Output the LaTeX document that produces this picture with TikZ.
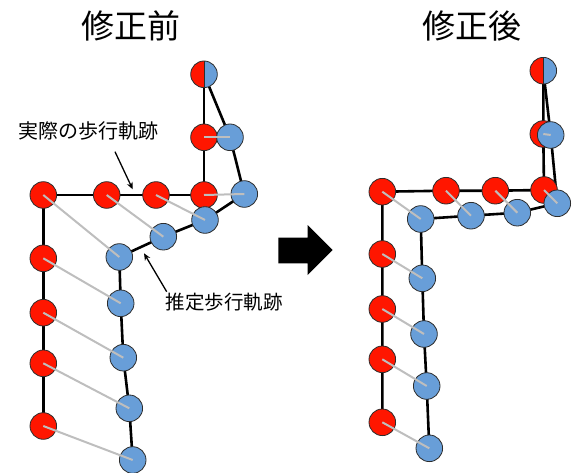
\documentclass[tikz,border=0pt]{standalone}
\usepackage{fontspec}
\setmainfont{Noto Sans CJK JP}
\usetikzlibrary{arrows.meta}
\pgfdeclarelayer{bg}
\pgfdeclarelayer{fg}
\pgfsetlayers{bg,main,fg}
\definecolor{stepred}{RGB}{255,22,0}
\definecolor{stepblue}{RGB}{104,158,216}
\definecolor{linkgray}{RGB}{190,190,190}
\definecolor{rim}{RGB}{45,45,45}
\tikzset{
  x=1pt, y=-1pt,
  dot/.style={circle, minimum size=26.6pt, inner sep=0pt, draw=rim, line width=0.8pt},
  rdot/.style={dot, fill=stepred},
  bdot/.style={dot, fill=stepblue},
  hdot/.style={dot, fill=stepblue, path picture={\fill[stepred] (path picture bounding box.south west) rectangle (path picture bounding box.north); \draw[rim, line width=0.8pt] (path picture bounding box.south) -- (path picture bounding box.north);}},
  trail/.style={line width=2.6pt, black},
  link/.style={line width=2pt, linkgray},
  note/.style={line width=1.3pt, -{Stealth[length=7pt,width=6pt]}},
  title/.style={font=\fontsize{33}{36}\selectfont, inner sep=0pt},
  label/.style={font=\fontsize{20}{22}\selectfont, inner sep=0pt},
}
\begin{document}
\begin{tikzpicture}
\useasboundingbox (0,0) rectangle (572,473);

% titles
\node[title] (t1) at (130.8,26) {修正前};
\node[title] (t2) at (471.7,26) {修正後};

% ---------- left panel ----------
\node[hdot] (lt) at (204,74.3) {};
\node[rdot] (lr1) at (204,137.3) {};
\node[rdot] (lr2) at (204,195) {};
\node[rdot] (lr3) at (156,195) {};
\node[rdot] (lr4) at (106.7,195) {};
\node[rdot] (lr5) at (43.3,195) {};
\node[rdot] (lr6) at (43.3,258.3) {};
\node[rdot] (lr7) at (43.3,312.7) {};
\node[rdot] (lr8) at (43.3,363.3) {};
\node[rdot] (lr9) at (43.3,426) {};
\node[bdot] (lb1) at (230,137.3) {};
\node[bdot] (lb2) at (244.3,194) {};
\node[bdot] (lb3) at (205,220) {};
\node[bdot] (lb4) at (163.3,236.7) {};
\node[bdot] (lb5) at (119.3,257) {};
\node[bdot] (lb6) at (120.7,303.3) {};
\node[bdot] (lb7) at (123.3,357.7) {};
\node[bdot] (lb8) at (129.3,408.3) {};
\node[bdot] (lb9) at (132.7,460) {};

\begin{pgfonlayer}{bg}
\draw[trail] (lt.center) -- (lr1.center) -- (lr2.center) -- (lr3.center) -- (lr4.center) -- (lr5.center) -- (lr6.center) -- (lr7.center) -- (lr8.center) -- (lr9.center);
\draw[trail] (lt.center) -- (lb1.center) -- (lb2.center) -- (lb3.center) -- (lb4.center) -- (lb5.center) -- (lb6.center) -- (lb7.center) -- (lb8.center) -- (lb9.center);
\end{pgfonlayer}
\begin{pgfonlayer}{fg}
\foreach \i in {1,...,9} {\draw[link] (lr\i.center) -- (lb\i.center);}
\end{pgfonlayer}

\node[label] (l1) at (88.3,131) {実際の歩行軌跡};
\coordinate (l1a) at (115,151.7);
\coordinate (l1b) at (132.7,189.3);
\draw[note] (l1a) -- (l1b);
\node[label, font=\fontsize{19.5}{22}\selectfont] (l2) at (224.2,302.5) {推定歩行軌跡};
\coordinate (l2a) at (166.7,291.7);
\coordinate (l2b) at (144,253.3);
\draw[note] (l2a) -- (l2b);

% big arrow
\fill[black] (278.3,237.7) -- (307.7,237.7) -- (307.7,225) -- (332.7,250) -- (307.7,275) -- (307.7,263.3) -- (278.3,263.3) -- cycle;

% ---------- right panel ----------
\node[hdot] (rt) at (543.3,70.7) {};
\node[rdot] (rr1) at (543.3,134) {};
\node[rdot] (rr2) at (544,190) {};
\node[rdot] (rr3) at (495.3,190.7) {};
\node[rdot] (rr4) at (446,190.7) {};
\node[rdot] (rr5) at (382.3,191.7) {};
\node[rdot] (rr6) at (382.3,254) {};
\node[rdot] (rr7) at (382.3,309) {};
\node[rdot] (rr8) at (382.3,359.3) {};
\node[rdot] (rr9) at (382.3,422.3) {};
\node[bdot] (rb1) at (550.7,135) {};
\node[bdot] (rb2) at (557.3,203.3) {};
\node[bdot] (rb3) at (517.3,212.7) {};
\node[bdot] (rb4) at (471,215.7) {};
\node[bdot] (rb5) at (420.7,219) {};
\node[bdot] (rb6) at (422.3,278.3) {};
\node[bdot] (rb7) at (424,334) {};
\node[bdot] (rb8) at (426.7,386) {};
\node[bdot] (rb9) at (429.3,448.3) {};

\begin{pgfonlayer}{bg}
\draw[trail] (rt.center) -- (rr1.center) -- (rr2.center) -- (rr3.center) -- (rr4.center) -- (rr5.center) -- (rr6.center) -- (rr7.center) -- (rr8.center) -- (rr9.center);
\draw[trail] (rt.center) -- (rb1.center) -- (rb2.center) -- (rb3.center) -- (rb4.center) -- (rb5.center) -- (rb6.center) -- (rb7.center) -- (rb8.center) -- (rb9.center);
\end{pgfonlayer}
\begin{pgfonlayer}{fg}
\foreach \i in {1,...,9} {\draw[link] (rr\i.center) -- (rb\i.center);}
\end{pgfonlayer}
\end{tikzpicture}
\end{document}
